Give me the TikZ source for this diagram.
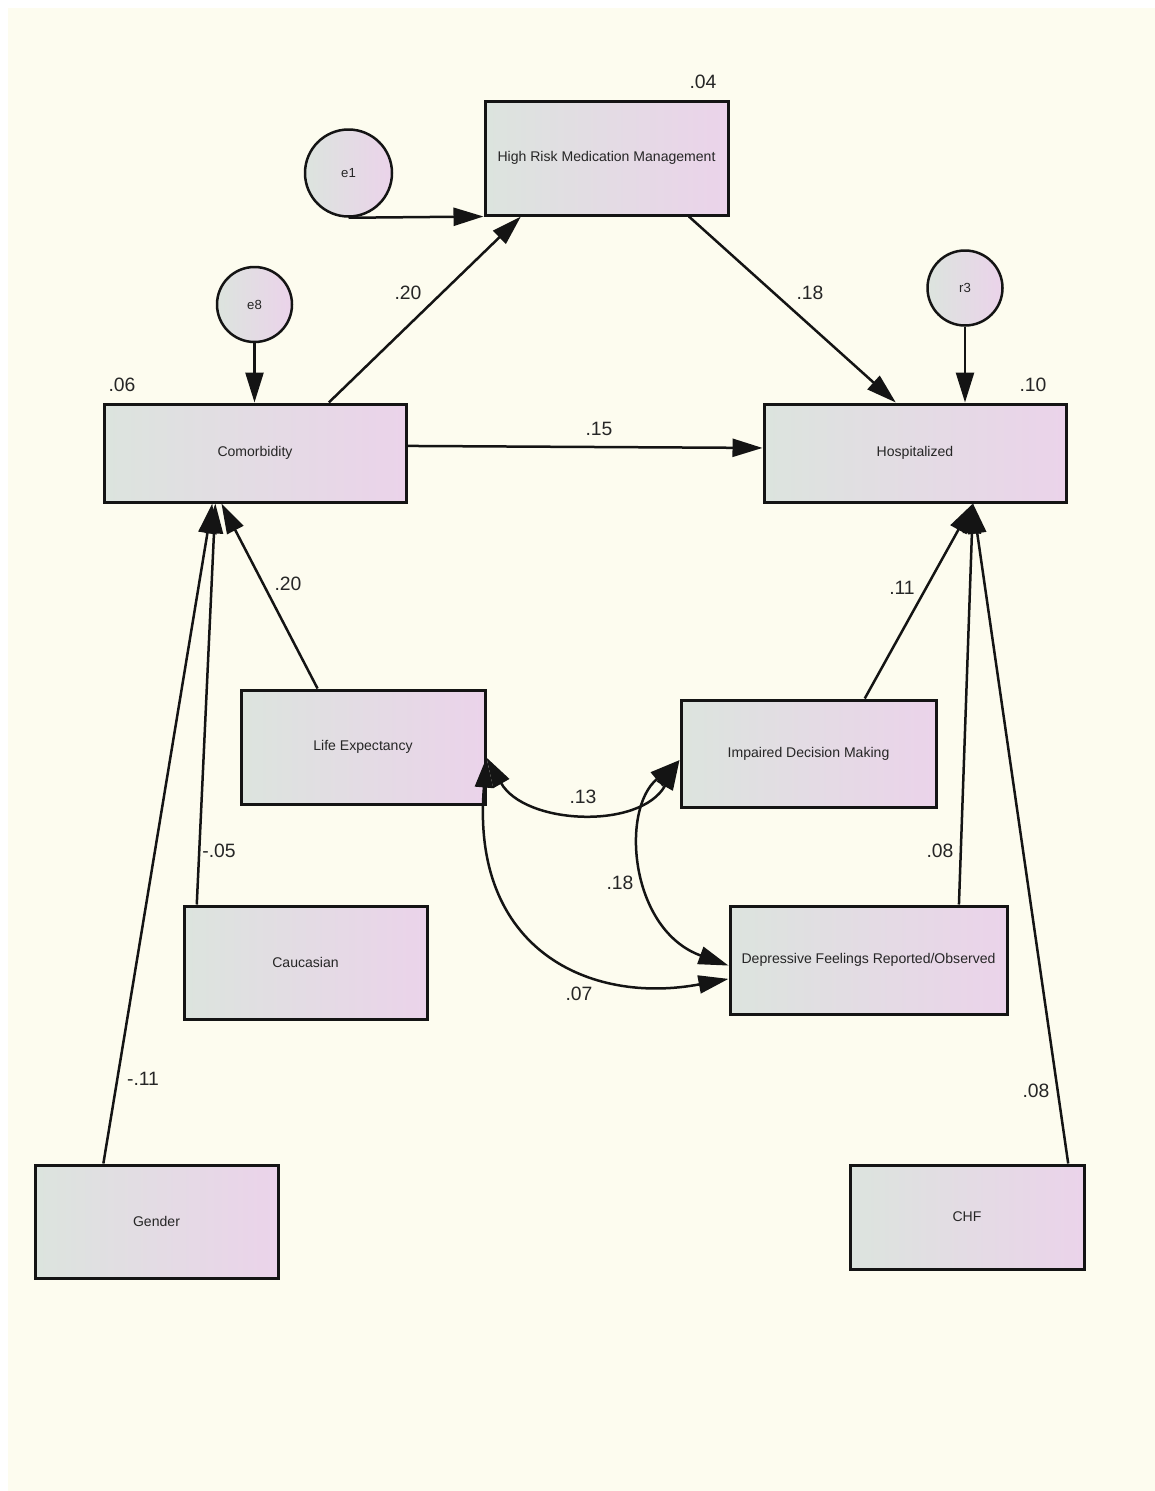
\documentclass[tikz,border=0pt]{standalone}
\usepackage{fontspec}
\setmainfont{Liberation Sans}
\usetikzlibrary{arrows.meta,calc}

\definecolor{paper}{HTML}{FDFCEF}
\definecolor{shadeL}{HTML}{DCE4DE}
\definecolor{shadeR}{HTML}{EBD3EA}
\definecolor{ink}{HTML}{141414}
\definecolor{labelink}{HTML}{262626}

\tikzset{
  varbox/.style 2 args={draw=ink, line width=0.06cm, rectangle, inner sep=0pt,
    left color=shadeL, right color=shadeR,
    minimum width=#1*0.02cm, minimum height=#2*0.02cm,
    font=\fontsize{8}{9}\selectfont, text=labelink},
  errcirc/.style={draw=ink, line width=0.05cm, circle, inner sep=0pt,
    left color=shadeL, right color=shadeR,
    minimum size=#1*0.02cm, font=\fontsize{7.5}{9}\selectfont, text=labelink},
  coef/.style={font=\fontsize{11}{13}\selectfont, text=labelink, inner sep=0pt},
  regpath/.style={draw=ink, line width=0.05cm, -{Triangle[length=0.6cm,width=0.36cm]}},
  covpath/.style={draw=ink, line width=0.05cm,
    {Triangle[length=0.6cm,width=0.36cm]}-{Triangle[length=0.6cm,width=0.36cm]}},
}

\begin{document}
\begin{tikzpicture}[x=0.02cm, y=-0.02cm]
  % page and paper
  \useasboundingbox (0,0) rectangle (1155,1491);
  \fill[white] (0,0) rectangle (1170,1510);
  \fill[paper] (8,8) rectangle (1170,1510);

  % observed variables
  \node[varbox={243}{114}] (hr)   at (606.5,158)  {\raisebox{-2pt}{High Risk Medication Management}};
  \node[varbox={302}{98}]  (com)  at (255,453)    {\raisebox{-2pt}{Comorbidity}};
  \node[varbox={302}{98}]  (hosp) at (915,453)    {\raisebox{-2pt}{Hospitalized}};
  \node[varbox={244}{114}] (le)   at (363,747)    {\raisebox{-2pt}{Life Expectancy}};
  \node[varbox={255}{107}] (idm)  at (808.5,753.5){\raisebox{-1pt}{Impaired Decision Making}};
  \node[varbox={243}{113}] (cau)  at (305.5,962.5){\raisebox{-1pt}{Caucasian}};
  \node[varbox={277}{108}] (dfr)  at (868.5,960)  {\raisebox{-1pt}{Depressive Feelings Reported/Observed}};
  \node[varbox={243}{113}] (gen)  at (156.5,1221.5){Gender};
  \node[varbox={234}{104}] (chf)  at (967,1217)   {CHF};

  % error terms
  \node[errcirc=87] (e1) at (348.5,173) {e1};
  \node[errcirc=75] (e8) at (254.5,304.5) {e8};
  \node[errcirc=75] (r3) at (965,288) {r3};

  % error paths
  \draw[regpath] (e1.south) -- (hr.south west);
  \draw[regpath] (e8.south) -- (e8.south |- com.north);
  \draw[regpath] (r3.south) -- (r3.south |- hosp.north);

  % structural paths
  \draw[regpath] ($(com.north west)!0.742!(com.north east)$) -- ($(hr.south west)!0.152!(hr.south east)$);
  \draw[regpath] ($(hr.south west)!0.835!(hr.south east)$) -- ($(hosp.north west)!0.437!(hosp.north east)$);
  \draw[regpath] ($(com.north east)!0.43!(com.south east)$) -- ($(hosp.north west)!0.45!(hosp.south west)$);
  \draw[regpath] ($(le.north west)!0.316!(le.north east)$) -- ($(com.south west)!0.39!(com.south east)$);
  \draw[regpath] ($(cau.north west)!0.058!(cau.north east)$) -- ($(com.south west)!0.37!(com.south east)$);
  \draw[regpath] ($(gen.north west)!0.284!(gen.north east)$) -- ($(com.south west)!0.36!(com.south east)$);
  \draw[regpath] ($(idm.north west)!0.718!(idm.north east)$) -- ($(hosp.south west)!0.69!(hosp.south east)$);
  \draw[regpath] ($(dfr.north west)!0.823!(dfr.north east)$) -- ($(hosp.south west)!0.69!(hosp.south east)$);
  \draw[regpath] ($(chf.north west)!0.927!(chf.north east)$) -- ($(hosp.south west)!0.69!(hosp.south east)$);

  % covariances
  \draw[covpath] ($(le.north east)!0.59!(le.south east)$) .. controls (525,825) and (640,830) .. ($(idm.north west)!0.56!(idm.south west)$);
  \draw[covpath] ($(le.north east)!0.59!(le.south east)$) .. controls (470,950) and (590,1005) .. ($(dfr.north west)!0.67!(dfr.south west)$);
  \draw[covpath] ($(idm.north west)!0.56!(idm.south west)$) .. controls (620,810) and (630,930) .. ($(dfr.north west)!0.55!(dfr.south west)$);

  % squared multiple correlations
  \node[coef] (r2hr)   at (703,82)   {.04};
  \node[coef] (r2com)  at (122,385)  {.06};
  \node[coef] (r2hosp) at (1033,385) {.10};

  % path coefficients
  \node[coef] (b1)  at (408,293)  {.20};
  \node[coef] (b2)  at (810,293)  {.18};
  \node[coef] (b3)  at (599,429)  {.15};
  \node[coef] (b4)  at (288,584)  {.20};
  \node[coef] (b5)  at (219,851)  {-.05};
  \node[coef] (b6)  at (143,1079) {-.11};
  \node[coef] (b7)  at (902,588)  {.11};
  \node[coef] (b8)  at (940,851)  {.08};
  \node[coef] (b9)  at (1036,1091){.08};
  \node[coef] (c1)  at (583,797)  {.13};
  \node[coef] (c2)  at (620,883)  {.18};
  \node[coef] (c3)  at (579,994)  {.07};
\end{tikzpicture}
\end{document}
